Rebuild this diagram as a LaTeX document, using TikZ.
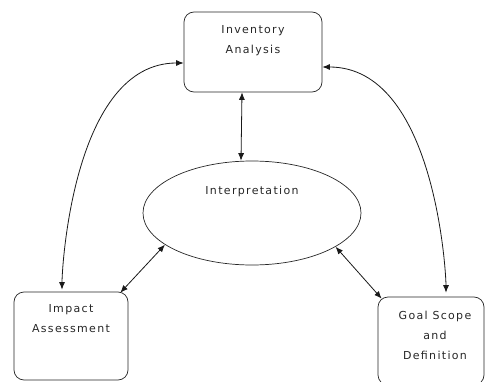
\documentclass[tikz,border=0pt]{standalone}
\usepackage{fontspec}
\newfontfamily\diagfont{DejaVu Sans}[LetterSpace=12]
\usetikzlibrary{arrows.meta, shapes.geometric}
\usetikzlibrary{positioning}
\tikzstyle{stage_box} = [
    rectangle,
    rounded corners=10pt,
    draw=black!85,
    line width=0.7pt,
    inner sep=0pt
]
\tikzstyle{stage_oval} = [
    ellipse,
    draw=black!85,
    line width=0.7pt,
    inner sep=0pt
]
\tikzstyle{stage_text} = [
    font=\diagfont\fontsize{11}{20}\selectfont,
    text=black!85,
    align=center,
    inner sep=0pt % text sits near the top of each shape
]
\tikzstyle{link} = [
    {Latex[length=7.5pt,width=6pt]}-{Latex[length=7.5pt,width=6pt]},
    line width=0.8pt,
    black!90
]

\begin{document}
\begin{tikzpicture}[x=1pt, y=1pt]
\useasboundingbox (0,0) rectangle (487,381);

% stages
\node [stage_box, minimum width=138pt, minimum height=80pt] (inv) at (253,329) {};
\node [stage_oval, minimum width=218pt, minimum height=104pt] (interp) at (252,168) {};
\node [stage_box, minimum width=114pt, minimum height=88pt] (impact) at (71,45) {};
\node [stage_box, minimum width=106pt, minimum height=88pt] (goal) at (431,40) {};

% labels
\node [stage_text, below=13.5pt of inv.north] (inv_text) {Inventory\\Analysis};
\node [stage_text, below=25.5pt of interp.north] (interp_text) {Interpretation};
\node [stage_text, below=12.5pt of impact.north] (impact_text) {Impact\\Assessment};
\node [stage_text, below=14.5pt of goal.north, xshift=4pt] (goal_text) {Goal Scope\\and\\Definition};

% links
\draw [link] ([xshift=-11pt]inv.south) -- ([xshift=-11pt]interp.north);
\draw [link] (interp.200) -- ([xshift=-8pt,yshift=-1pt]impact.north east);
\draw [link] (interp.338) -- ([xshift=4pt,yshift=-2pt]goal.north west);
\draw [link] ([yshift=-11pt]inv.west)
    .. controls ([xshift=-110pt,yshift=-11pt]inv.west) and ([xshift=-9pt,yshift=25pt]impact.north)
    .. ([xshift=-9pt,yshift=2pt]impact.north);
\draw [link] ([yshift=-15pt]inv.east)
    .. controls ([xshift=112pt,yshift=-15pt]inv.east) and ([xshift=15pt,yshift=25pt]goal.north)
    .. ([xshift=15pt,yshift=4pt]goal.north);
\end{tikzpicture}
\end{document}
